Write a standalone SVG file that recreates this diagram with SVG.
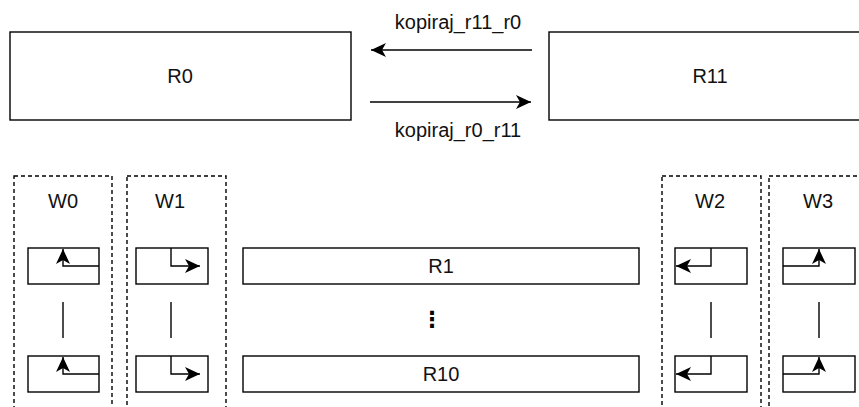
<svg xmlns="http://www.w3.org/2000/svg" width="859" height="407" viewBox="0 0 859 407">
<style>
  .box{fill:#fff;stroke:#000;stroke-width:1.4}
  .grp{fill:none;stroke:#000;stroke-width:1.4;stroke-dasharray:4 3}
  .ln{fill:none;stroke:#000;stroke-width:1.4}
  .t{font-family:"Liberation Sans",Arial,sans-serif;font-size:20px;fill:#111;text-anchor:middle}
</style>
<defs>
  <marker id="ah" markerUnits="userSpaceOnUse" markerWidth="17" markerHeight="15" refX="15" refY="7" orient="auto">
    <path d="M0,0 L15,7 L0,14 L4,7 Z" fill="#000"/>
  </marker>
</defs>
<rect width="859" height="407" fill="#fff"/>
<g id="R0"><rect class="box" x="10" y="32" width="341" height="88"/><text class="t" x="180" y="83">R0</text></g>
<g id="R11"><rect class="box" x="549" y="32" width="322" height="88"/><text class="t" x="710" y="83">R11</text></g>
<g id="W0"><rect class="grp" x="14" y="176" width="98" height="250"/><text class="t" x="63" y="208">W0</text></g>
<g id="W1"><rect class="grp" x="127" y="176" width="99" height="250"/><text class="t" x="170" y="208">W1</text></g>
<g id="W2"><rect class="grp" x="662" y="176" width="99" height="250"/><text class="t" x="710" y="208">W2</text></g>
<g id="W3"><rect class="grp" x="769" y="176" width="110" height="250"/><text class="t" x="818" y="208">W3</text></g>
<g id="R1"><rect class="box" x="243" y="248" width="396" height="36"/><text class="t" x="441" y="273">R1</text></g>
<g id="R10"><rect class="box" x="243" y="356" width="396" height="36"/><text class="t" x="441" y="381">R10</text></g>
<g id="dots"><text x="432" y="327" style="font-family:'DejaVu Sans',sans-serif;font-size:22px;font-weight:bold;text-anchor:middle">⋮</text></g>
<g id="W0a"><rect class="box" x="28" y="248" width="71" height="36"/></g>
<g id="W0b"><rect class="box" x="28" y="356" width="71" height="36"/></g>
<g id="W1a"><rect class="box" x="136" y="248" width="72" height="36"/></g>
<g id="W1b"><rect class="box" x="136" y="356" width="72" height="36"/></g>
<g id="W2a"><rect class="box" x="675" y="248" width="72" height="36"/></g>
<g id="W2b"><rect class="box" x="675" y="356" width="72" height="36"/></g>
<g id="W3a"><rect class="box" x="783" y="248" width="72" height="36"/></g>
<g id="W3b"><rect class="box" x="783" y="356" width="72" height="36"/></g>
<g id="connectors">
  <line class="ln" x1="532" y1="50" x2="371" y2="50" marker-end="url(#ah)"/>
  <text class="t" x="458" y="29">kopiraj_r11_r0</text>
  <line class="ln" x1="370" y1="102" x2="531" y2="102" marker-end="url(#ah)"/>
  <text class="t" x="458" y="137">kopiraj_r0_r11</text>
  <polyline class="ln" points="99,266 63,266 63,249" marker-end="url(#ah)"/>
  <polyline class="ln" points="99,374 63,374 63,357" marker-end="url(#ah)"/>
  <polyline class="ln" points="171,248 171,266 200,266" marker-end="url(#ah)"/>
  <polyline class="ln" points="171,356 171,374 200,374" marker-end="url(#ah)"/>
  <polyline class="ln" points="711,248 711,266 676,266" marker-end="url(#ah)"/>
  <polyline class="ln" points="711,356 711,374 676,374" marker-end="url(#ah)"/>
  <polyline class="ln" points="783,266 819,266 819,249" marker-end="url(#ah)"/>
  <polyline class="ln" points="783,374 819,374 819,357" marker-end="url(#ah)"/>
  <line class="ln" x1="63" y1="302" x2="63" y2="338"/>
  <line class="ln" x1="171" y1="302" x2="171" y2="338"/>
  <line class="ln" x1="711" y1="302" x2="711" y2="338"/>
  <line class="ln" x1="819" y1="302" x2="819" y2="338"/>
</g>
</svg>
